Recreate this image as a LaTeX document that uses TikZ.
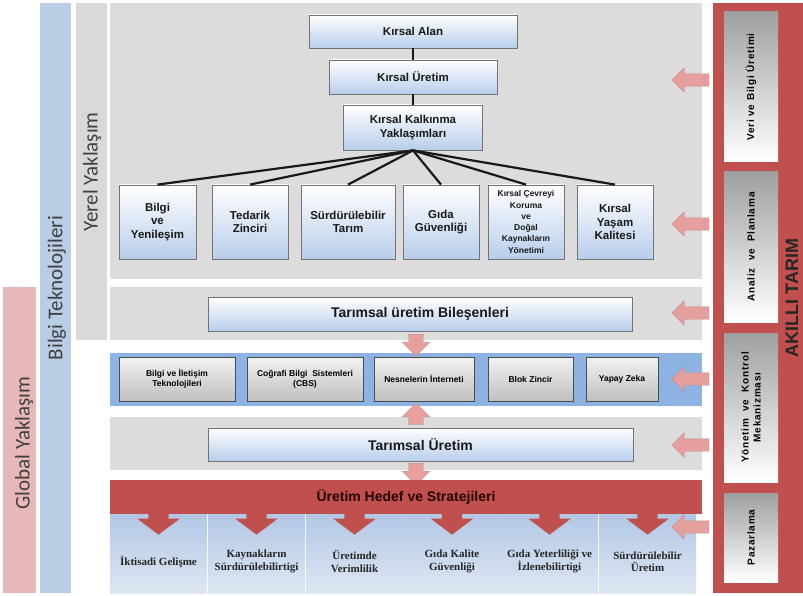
\documentclass[tikz,border=0pt]{standalone}
\usepackage{fontspec}
\setmainfont{Liberation Sans}
\newfontfamily\calib{Carlito}
\newfontfamily\serifb{Liberation Serif}
\newfontfamily\sidefont[LetterSpace=8]{Liberation Sans}
\usetikzlibrary{shapes.arrows}

\definecolor{panelgray}{RGB}{220,220,220}
\definecolor{barpink}{RGB}{230,185,184}
\definecolor{barblue}{RGB}{185,205,229}
\definecolor{bargray}{RGB}{217,217,217}
\definecolor{techblue}{RGB}{141,179,226}
\definecolor{akred}{RGB}{192,80,77}
\definecolor{arrowpink}{RGB}{229,160,158}
\definecolor{boxblue}{RGB}{184,206,236}
\definecolor{tileblue}{RGB}{178,199,229}
\definecolor{tilelight}{RGB}{222,231,243}
\definecolor{labelgray}{RGB}{64,64,64}

\tikzstyle{treebox}=[draw=gray!90!black, line width=0.8pt, top color=white, bottom color=boxblue, align=center, inner sep=1pt, text=black!90, font=\bfseries\fontsize{11.5}{13.5}\selectfont]
\tikzstyle{techbox}=[draw=gray!60!black, line width=0.8pt, top color=gray!10, bottom color=gray!50, align=center, minimum height=44pt, inner sep=1pt, font=\bfseries\fontsize{8.5}{10}\selectfont]
\tikzstyle{goaltile}=[top color=tileblue, bottom color=tilelight, minimum width=97pt, minimum height=79pt, inner sep=0pt]
\tikzstyle{tiletext}=[align=center, text=black!85, font=\serifb\bfseries\fontsize{11}{12.5}\selectfont]
\tikzstyle{sidebox}=[rotate=90, top color=gray!75, bottom color=white, minimum height=54pt, align=center, inner sep=1pt, font=\sidefont\bfseries\fontsize{10}{12}\selectfont]
\tikzstyle{barlabel}=[rotate=90, text=labelgray, font=\calib\fontsize{21}{24}\selectfont]
\tikzstyle{treeline}=[line width=2.2pt, black!90]
\tikzstyle{pinkarrow}=[single arrow, draw=arrowpink!85!black, fill=arrowpink, line width=0.4pt, inner sep=6pt, minimum width=24pt, minimum height=37pt, single arrow head extend=6pt, shape border rotate=180]
\tikzstyle{uparrow}=[single arrow, draw=arrowpink!85!black, fill=arrowpink, line width=0.4pt, inner sep=7pt, minimum width=27pt, minimum height=20pt, single arrow head extend=6.5pt]
\tikzstyle{redarrow}=[single arrow, fill=akred, inner sep=10pt, minimum width=42pt, minimum height=28pt, single arrow head extend=11pt, single arrow tip angle=106, shape border rotate=270]
\newcommand{\treebox}{\node[treebox]}
\newcommand{\techbox}{\node[techbox]}

\begin{document}
\begin{tikzpicture}[x=1pt, y=-1pt]
\fill[white] (0,0) rectangle (803,596);
\useasboundingbox (0,0) rectangle (803,596);

\fill[barpink] (3,287) rectangle (36,593);
\fill[barblue] (40,3) rectangle (71,593);
\fill[bargray] (76,3) rectangle (107,340);
\node[barlabel] (global) at (24,443) {Global Yaklaşım};
\node[barlabel] (bilgitek) at (57,288) {Bilgi Teknolojileri};
\node[barlabel] (yerel) at (92,172) {Yerel Yaklaşım};

\fill[panelgray] (110,3) rectangle (702,279);
\fill[panelgray] (110,287) rectangle (702,340);
\fill[techblue] (110,353) rectangle (702,406);
\fill[panelgray] (110,417) rectangle (702,470);

\treebox[minimum width=208pt, minimum height=33pt] (alan) at (413,31.5) {Kırsal Alan};
\treebox[minimum width=168pt, minimum height=34pt] (uretim) at (413,77) {Kırsal Üretim};
\treebox[minimum width=139pt, minimum height=45pt] (kalkinma) at (413,127.5) {Kırsal Kalkınma\\Yaklaşımları};
\treebox[minimum width=77pt, minimum height=74pt] (bilgi) at (157.5,222) {Bilgi\\ve\\Yenileşim};
\treebox[minimum width=76pt, minimum height=74pt] (tedarik) at (250,222) {Tedarik\\Zinciri};
\treebox[minimum width=94pt, minimum height=74pt] (surdur) at (348,222) {Sürdürülebilir\\Tarım};
\treebox[minimum width=76pt, minimum height=74pt] (gida) at (441,222) {Gıda\\Güvenliği};
\treebox[minimum width=76pt, minimum height=74pt, font=\bfseries\fontsize{8.5}{11.3}\selectfont] (cevre) at (526,222) {Kırsal Çevreyi\\Koruma\\ve\\Doğal\\Kaynakların\\Yönetimi};
\treebox[minimum width=76pt, minimum height=74pt] (yasam) at (615,222) {Kırsal\\Yaşam\\Kalitesi};
\draw[treeline] (alan) -- (uretim);
\draw[treeline] (uretim) -- (kalkinma);
\foreach \c in {bilgi,tedarik,surdur,gida,cevre,yasam}
  \draw[treeline] (kalkinma.south) -- (\c.north);

\treebox[minimum width=424pt, minimum height=34pt, font=\bfseries\fontsize{14}{16}\selectfont] (bilesen) at (420,314) {Tarımsal üretim Bileşenleri};
\techbox[minimum width=116pt] (bit) at (177,379) {Bilgi ve İletişim\\Teknolojileri};
\techbox[minimum width=116pt] (cbs) at (305,379) {Coğrafi Bilgi\ \ Sistemleri\\(CBS)};
\techbox[minimum width=100pt] (iot) at (424,379) {Nesnelerin İnterneti};
\techbox[minimum width=85pt] (blok) at (530.5,379) {Blok Zincir};
\techbox[minimum width=72pt] (yz) at (622,379) {Yapay Zeka};
\treebox[minimum width=425pt, minimum height=33pt, font=\bfseries\fontsize{14}{16}\selectfont] (tarimsal) at (420.5,444.5) {Tarımsal Üretim};

\node[uparrow, shape border rotate=270] (va1) at (416,341.5) {};
\node[uparrow, shape border rotate=90, minimum height=21pt] (va2) at (416,417.5) {};
\node[uparrow, shape border rotate=270] (va3) at (416,470.5) {};

\node[goaltile, label={[tiletext, yshift=-8pt]center:İktisadi Gelişme}] (g1) at (158.5,553.5) {};
\node[goaltile, label={[tiletext, yshift=-8pt]center:{Kaynakların\\Sürdürülebilirtigi}}] (g2) at (256.5,553.5) {};
\node[goaltile, label={[tiletext, yshift=-8pt]center:{Üretimde\\Verimlilik}}] (g3) at (354.5,553.5) {};
\node[goaltile, label={[tiletext, yshift=-8pt]center:{Gıda Kalite\\Güvenliği}}] (g4) at (452,553.5) {};
\node[goaltile, label={[tiletext, yshift=-8pt]center:{Gıda Yeterliliği ve\\İzlenebilirtigi}}] (g5) at (549.5,553.5) {};
\node[goaltile, label={[tiletext, yshift=-8pt]center:{Sürdürülebilir\\Üretim}}] (g6) at (647.5,553.5) {};
\node[fill=akred, minimum width=592pt, minimum height=34pt, inner sep=0pt, text=black!85!red, font=\bfseries\fontsize{14}{16}\selectfont] (hedef) at (406,497) {Üretim Hedef ve Stratejileri};
\foreach \t in {1,...,6}
  \node[redarrow] (dn\t) at ([yshift=-3pt]g\t.north) {};

\fill[akred] (713,3) rectangle (803,593);
\node[sidebox, minimum width=150pt] (veri) at (751,87) {Veri ve Bilgi Üretimi};
\node[sidebox, minimum width=150pt] (analiz) at (751,247) {Analiz\ \ ve\ \ Planlama};
\node[sidebox, minimum width=149pt] (yonetim) at (751,407.5) {Yönetim\ \ ve\ \ Kontrol\\Mekanizması};
\node[sidebox, minimum width=89pt] (pazar) at (751,537.5) {Pazarlama};
\node[rotate=90, inner sep=0pt, text=black!85, font=\bfseries\fontsize{18}{20}\selectfont] (akilli) at (792,298) {AKILLI TARIM};

\foreach \y [count=\i] in {80,224,313,379,445,527}
  \node[pinkarrow] (ar\i) at (693.5,\y) {};
\end{tikzpicture}
\end{document}
